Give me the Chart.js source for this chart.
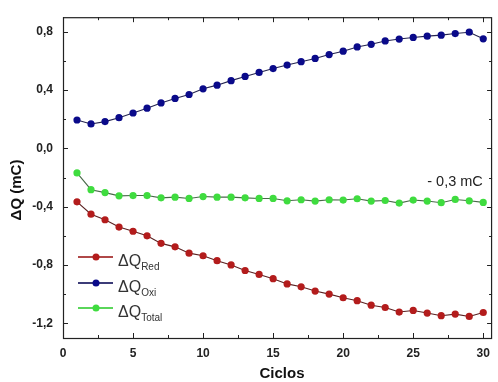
<!DOCTYPE html>
<html><head><meta charset="utf-8">
<script src="https://cdn.jsdelivr.net/npm/chart.js@4/dist/chart.umd.min.js"></script>
<style>html,body{margin:0;padding:0;background:#fff;}#wrap{width:498px;height:382px;position:relative;}</style>
</head><body><div id="wrap"><canvas id="c" width="498" height="382"></canvas></div>
<script>
const cycles = [1,2,3,4,5,6,7,8,9,10,11,12,13,14,15,16,17,18,19,20,21,22,23,24,25,26,27,28,29,30];
const qRed = [-0.366,-0.451,-0.489,-0.539,-0.568,-0.599,-0.651,-0.675,-0.718,-0.736,-0.770,-0.799,-0.837,-0.864,-0.893,-0.929,-0.949,-0.978,-0.999,-1.024,-1.044,-1.075,-1.091,-1.122,-1.111,-1.129,-1.147,-1.136,-1.152,-1.125];
const qOxi = [0.195,0.168,0.184,0.211,0.243,0.276,0.312,0.343,0.370,0.409,0.434,0.465,0.494,0.521,0.548,0.572,0.595,0.617,0.644,0.667,0.696,0.714,0.737,0.750,0.761,0.770,0.777,0.788,0.797,0.752];
const qTotal = [-0.168,-0.283,-0.303,-0.325,-0.323,-0.323,-0.339,-0.334,-0.343,-0.330,-0.334,-0.334,-0.339,-0.343,-0.343,-0.359,-0.352,-0.361,-0.352,-0.354,-0.345,-0.361,-0.357,-0.375,-0.354,-0.361,-0.372,-0.350,-0.359,-0.370];
const xTicks = [0,5,10,15,20,25,30];
const yTicks = [-1.2,-0.8,-0.4,0.0,0.4,0.8];
const seriesNames = ['Red','Oxi','Total'];
const annotationText = '- 0,3 mC';

const markColors = ['#b31c1c','#0a0a8a','#3fdc3f'];
const lineColors = ['#5a2020','#24244f','#4a6a4a'];
const legendLineColors = ['#b04848','#3c3c78','#5ad65a'];

function mk(data, i){
  return {label:'ΔQ'+seriesNames[i], data: cycles.map((c,k)=>({x:c,y:data[k]})),
    borderColor: lineColors[i], borderWidth:1.1, backgroundColor: markColors[i],
    pointBackgroundColor: markColors[i], pointBorderColor: markColors[i], pointRadius:3.6, pointBorderWidth:0, tension:0};
}

const decor = {
  id:'decor',
  afterDraw(chart){
    const ctx = chart.ctx, a = chart.chartArea, xs = chart.scales.x, ys = chart.scales.y;
    ctx.save();
    ctx.strokeStyle = '#222'; ctx.lineWidth = 1.2;
    ctx.strokeRect(a.left+0.5, a.top+0.5, a.right-a.left-1, a.bottom-a.top);
    ctx.lineWidth = 1;
    ctx.beginPath();
    for(let v=0; v<=30.01; v+=2.5){
      const px = Math.round(xs.getPixelForValue(v))+0.5;
      const len = (Math.abs(v%5)<1e-6)?5:3;
      ctx.moveTo(px,a.bottom); ctx.lineTo(px,a.bottom-len);
      ctx.moveTo(px,a.top); ctx.lineTo(px,a.top+len);
    }
    for(let v=-1.2; v<=0.81; v+=0.2){
      const py = Math.round(ys.getPixelForValue(v))+0.5;
      const isMaj = Math.abs(Math.round(v*10)%4)===0;
      const len = isMaj?5:3;
      ctx.moveTo(a.left,py); ctx.lineTo(a.left+len,py);
      ctx.moveTo(a.right,py); ctx.lineTo(a.right-len,py);
    }
    ctx.stroke();
    ctx.fillStyle = '#111';
    ctx.font = 'bold 15px "Liberation Sans", Arial, sans-serif';
    ctx.textAlign='center'; ctx.textBaseline='middle';
    ctx.fillText('Ciclos', 282, 374);
    ctx.save(); ctx.translate(17, 190); ctx.rotate(-Math.PI/2);
    ctx.fillText('ΔQ (mC)', 0, 0); ctx.restore();
    ctx.font = '14.5px "Liberation Sans", Arial, sans-serif';
    ctx.fillStyle = '#222';
    ctx.fillText(annotationText, 455, 182);
    const rows = [257, 283, 308];
    rows.forEach((y,i)=>{
      ctx.strokeStyle = legendLineColors[i]; ctx.lineWidth = 1.8;
      ctx.beginPath(); ctx.moveTo(78,y); ctx.lineTo(113,y); ctx.stroke();
      ctx.fillStyle = markColors[i];
      ctx.beginPath(); ctx.arc(96,y,3.5,0,Math.PI*2); ctx.fill();
      ctx.fillStyle = '#333'; ctx.textAlign='left'; ctx.textBaseline='alphabetic';
      ctx.font = '16px "Liberation Sans", Arial, sans-serif';
      ctx.fillText('ΔQ', 118, y+9);
      const w = ctx.measureText('ΔQ').width;
      ctx.font = '10px "Liberation Sans", Arial, sans-serif';
      ctx.fillText(seriesNames[i], 118+w, y+13);
    });
    ctx.restore();
  }
};

new Chart(document.getElementById('c'), {
  type:'line',
  data:{datasets:[mk(qRed,0), mk(qOxi,1), mk(qTotal,2)]},
  options:{
    responsive:false, animation:false, devicePixelRatio:1,
    layout:{padding:{left:0,right:1,top:13,bottom:0}},
    plugins:{legend:{display:false}, tooltip:{enabled:false}},
    scales:{
      x:{type:'linear', min:0, max:30.63,
        afterBuildTicks(s){ s.ticks = xTicks.map(v=>({value:v})); },
        afterFit(s){ s.height = 44; },
        grid:{display:false, drawTicks:false}, border:{display:false},
        ticks:{padding:8, color:'#222', font:{family:'"Liberation Sans", Arial, sans-serif', size:12, weight:'bold'}, maxRotation:0,
          callback:(v)=>String(v)}},
      y:{type:'linear', min:-1.3, max:0.9,
        afterBuildTicks(s){ s.ticks = yTicks.map(v=>({value:v})); },
        afterFit(s){ s.width = 63; },
        grid:{display:false, drawTicks:false}, border:{display:false},
        ticks:{padding:10, color:'#222', font:{family:'"Liberation Sans", Arial, sans-serif', size:12, weight:'bold'},
          callback:(v)=>v.toFixed(1).replace('.',',').replace('-0,0','0,0')}}
    }
  },
  plugins:[decor]
});
</script></body></html>
